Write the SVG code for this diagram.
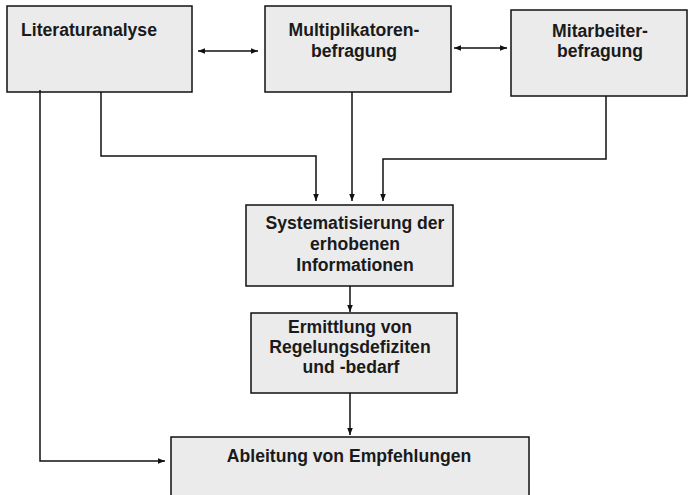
<svg xmlns="http://www.w3.org/2000/svg" width="688" height="495" viewBox="0 0 688 495">
<style>
.box{fill:#ebebeb;stroke:#111;stroke-width:1.5}
.t{font-family:"Liberation Sans",Arial,sans-serif;font-weight:bold;font-size:17.6px;fill:#1a1a1a}
.c{text-anchor:middle}
.ln{fill:none;stroke:#111;stroke-width:1.5}
</style>
<defs>
<marker id="ah" viewBox="0 0 10 10" refX="10" refY="5" markerWidth="7" markerHeight="7" markerUnits="userSpaceOnUse" orient="auto-start-reverse">
<path d="M0,1 L10,5 L0,9 Z" fill="#111"/>
</marker>
</defs>
<rect width="688" height="495" fill="#fff"/>
<g id="literaturanalyse">
<rect class="box" x="7" y="6" width="185" height="86"/>
<text class="t" x="21" y="36">Literaturanalyse</text>
</g>
<g id="multiplikatoren">
<rect class="box" x="265" y="6" width="186" height="86"/>
<text class="t c" x="354" y="36">Multiplikatoren-</text>
<text class="t c" x="354" y="57">befragung</text>
</g>
<g id="mitarbeiter">
<rect class="box" x="511" y="10" width="176" height="86"/>
<text class="t c" x="600" y="37">Mitarbeiter-</text>
<text class="t c" x="600" y="57">befragung</text>
</g>
<g id="systematisierung">
<rect class="box" x="246" y="205" width="207" height="81"/>
<text class="t c" x="355" y="229">Systematisierung der</text>
<text class="t c" x="355" y="250">erhobenen</text>
<text class="t c" x="355" y="271">Informationen</text>
</g>
<g id="ermittlung">
<rect class="box" x="251" y="313" width="206" height="80"/>
<text class="t c" x="350" y="333">Ermittlung von</text>
<text class="t c" x="350" y="353">Regelungsdefiziten</text>
<text class="t c" x="351" y="373">und -bedarf</text>
</g>
<g id="ableitung">
<rect class="box" x="171" y="437" width="358" height="70"/>
<text class="t c" x="349" y="462">Ableitung von Empfehlungen</text>
</g>
<g id="connectors">
<path class="ln" d="M198,51 H258" marker-start="url(#ah)" marker-end="url(#ah)"/>
<path class="ln" d="M454,48 H507" marker-start="url(#ah)" marker-end="url(#ah)"/>
<path class="ln" d="M101,92 V156 H316 V201" marker-end="url(#ah)"/>
<path class="ln" d="M352,92 V201" marker-end="url(#ah)"/>
<path class="ln" d="M606,96 V159 H383 V201" marker-end="url(#ah)"/>
<path class="ln" d="M40,90 V461 H165" marker-end="url(#ah)"/>
<path class="ln" d="M350,286 V312" marker-end="url(#ah)"/>
<path class="ln" d="M350,393 V435" marker-end="url(#ah)"/>
</g>
</svg>
